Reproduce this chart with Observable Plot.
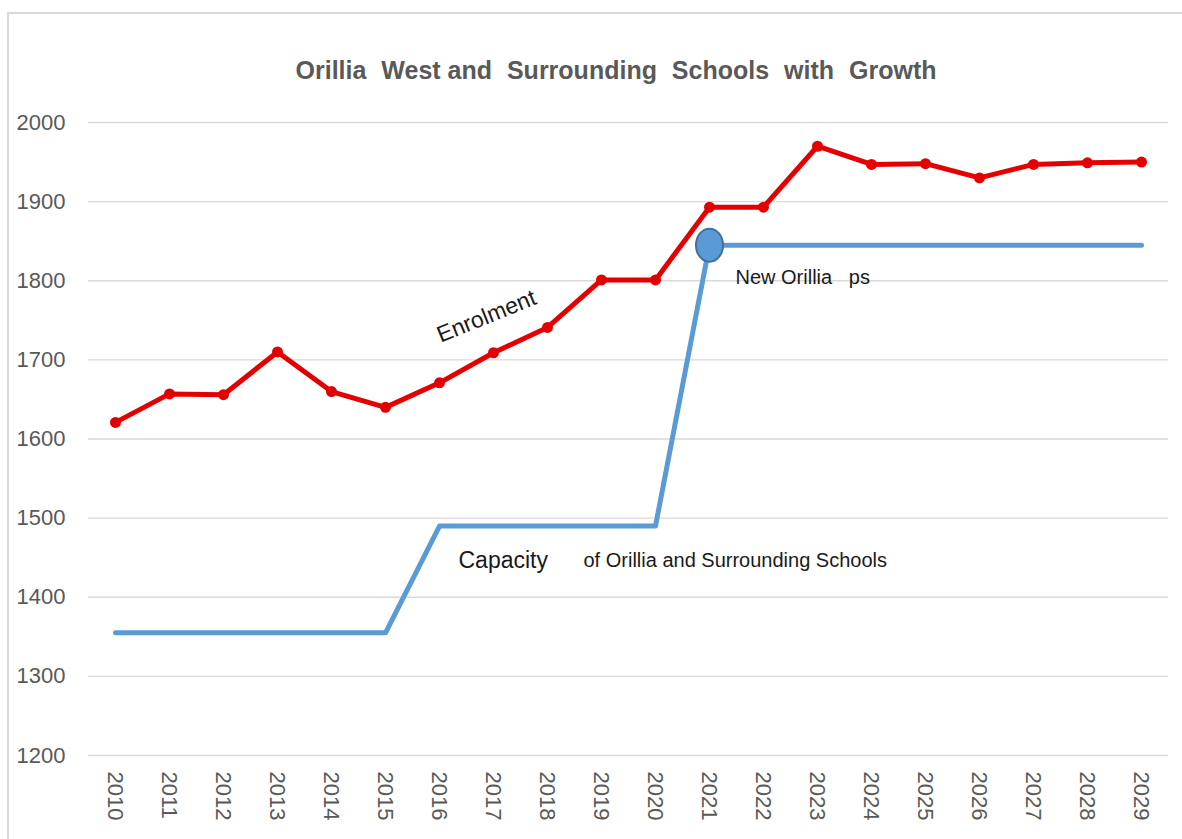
<!DOCTYPE html>
<html>
<head>
<meta charset="utf-8">
<script src="https://cdn.jsdelivr.net/npm/d3@7"></script>
<script src="https://cdn.jsdelivr.net/npm/@observablehq/plot@0.6"></script>
<style>
  html, body { margin: 0; padding: 0; background: #ffffff; }
  #wrap { position: relative; width: 1182px; height: 839px; overflow: hidden; background: #fff; }
  #frame { position: absolute; left: 7px; top: 12px; width: 1300px; height: 1000px;
           border-top: 2px solid #d9d9d9; border-left: 2px solid #d9d9d9; box-sizing: border-box; }
  #title { position: relative; height: 100px; line-height: 140px; text-align: center;
           font-family: "Liberation Sans", Arial, sans-serif; font-weight: bold; font-size: 25px;
           color: #595959; word-spacing: 8px; padding-left: 50px; white-space: nowrap; }
  #title .tight { word-spacing: 0; }
  #chart { position: relative; }
</style>
</head>
<body>
<div id="wrap">
  <div id="frame"></div>
  <div id="title">Orillia <span class="tight">West and</span> Surrounding Schools with Growth</div>
  <div id="chart"></div>
</div>
<script>
const years = ["2010","2011","2012","2013","2014","2015","2016","2017","2018","2019",
               "2020","2021","2022","2023","2024","2025","2026","2027","2028","2029"];
const enrolment = [1621,1657,1656,1710,1660,1640,1671,1709,1741,1801,
                   1801,1893,1893,1970,1947,1948,1930,1947,1949,1950];
const capacity = [1355,1355,1355,1355,1355,1355,1490,1490,1490,1490,
                  1490,1845,1845,1845,1845,1845,1845,1845,1845,1845];
const yTicks = [1200,1300,1400,1500,1600,1700,1800,1900,2000];
const seriesNames = ["Enrolment", "Capacity of Orillia and Surrounding Schools"];
const newSchoolLabel = "New Orillia\u00a0\u00a0 ps";
const newSchoolYear = "2021";

const enrolData = years.map((y, i) => ({year: y, value: enrolment[i]}));
const capData = years.map((y, i) => ({year: y, value: capacity[i]}));
const newSchool = [{year: newSchoolYear, value: capacity[years.indexOf(newSchoolYear)]}];

const ellipseSymbol = {
  draw(ctx, size) {
    const rx = 13.5, ry = 16.5, k = 0.5523;
    ctx.moveTo(rx, 0);
    ctx.bezierCurveTo(rx, ry * k, rx * k, ry, 0, ry);
    ctx.bezierCurveTo(-rx * k, ry, -rx, ry * k, -rx, 0);
    ctx.bezierCurveTo(-rx, -ry * k, -rx * k, -ry, 0, -ry);
    ctx.bezierCurveTo(rx * k, -ry, rx, -ry * k, rx, 0);
    ctx.closePath();
  }
};

const red = "#e40000";
const blue = "#5b9bd5";

const chart = Plot.plot({
  width: 1182,
  height: 739,
  marginTop: 22,
  marginBottom: 84,
  marginLeft: 88,
  marginRight: 14,
  style: {fontFamily: "'Liberation Sans', Arial, sans-serif", fontSize: "22px", color: "#595959", background: "transparent", overflow: "visible"},
  x: {type: "point", domain: years, padding: 0.5, align: 0.5},
  y: {domain: [1200, 2000]},
  marks: [
    Plot.ruleY(yTicks, {stroke: "#d9d9d9", strokeWidth: 1.3}),
    Plot.axisY({ticks: yTicks, tickFormat: "d", tickSize: 0, tickPadding: 23, label: null, fill: "#595959", fontSize: 22}),
    Plot.axisX({tickSize: 0, tickPadding: 16, tickRotate: 90, label: null, fill: "#595959", fontSize: 22}),
    Plot.line(capData, {x: "year", y: "value", stroke: blue, strokeWidth: 5}),
    Plot.line(enrolData, {x: "year", y: "value", stroke: red, strokeWidth: 5}),
    Plot.dot(enrolData, {x: "year", y: "value", fill: red, r: 5.5}),
    Plot.dot(newSchool, {x: "year", y: "value", symbol: ellipseSymbol, r: 14, fill: blue, stroke: "#41719c", strokeWidth: 2}),
    Plot.text([seriesNames[0]], {x: () => "2017", y: () => 1755, dx: -7, rotate: -22, fontSize: 23, fill: "#1a1a1a"}),
    Plot.text([newSchoolLabel], {x: () => newSchoolYear, y: () => 1804, dx: 26, textAnchor: "start", fontSize: 20, fill: "#1a1a1a"}),
    Plot.text(["Capacity"], {x: () => "2016", y: () => 1446, dx: 19, textAnchor: "start", fontSize: 23, fill: "#1a1a1a"}),
    Plot.text(["of Orillia and Surrounding Schools"], {x: () => "2016", y: () => 1446, dx: 144, textAnchor: "start", fontSize: 20, fill: "#1a1a1a"})
  ]
});
document.getElementById("chart").appendChild(chart);
</script>
</body>
</html>
